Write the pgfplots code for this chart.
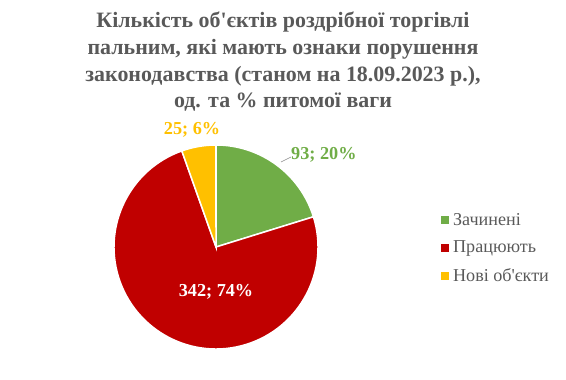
\documentclass[border=0pt]{standalone}
\usepackage{fontspec}
\setmainfont{Liberation Serif}[Ligatures=TeXOff]
\usepackage{pgfplots}
\usepackage{pgfplotstable}
\pgfplotsset{compat=1.18}
\definecolor{cgreen}{HTML}{70AD47}
\definecolor{cred}{HTML}{C00000}
\definecolor{cyellow}{HTML}{FFC000}
\definecolor{cgray}{HTML}{595959}
\pgfplotstableread{
value
93
342
25
}\piedata
\begin{document}
\begin{tikzpicture}
\pgfplotstablegetelem{0}{value}\of\piedata \let\va\pgfplotsretval
\pgfplotstablegetelem{1}{value}\of\piedata \let\vb\pgfplotsretval
\pgfplotstablegetelem{2}{value}\of\piedata \let\vc\pgfplotsretval
\pgfmathsetmacro{\tot}{\va+\vb+\vc}
\pgfmathsetmacro{\aA}{90}
\pgfmathsetmacro{\aB}{90-360*(\va/\tot)}
\pgfmathsetmacro{\aC}{\aB-360*(\vb/\tot)}
\pgfmathsetmacro{\aD}{\aC-360*(\vc/\tot)}
\begin{axis}[width=566bp, height=380bp, scale only axis,
  xmin=0, xmax=566, ymin=0, ymax=380, hide axis, clip=false,
  legend style={draw=none, fill=none, at={(441/566,132/380)}, anchor=west,
    font=\fontsize{18.2}{21}\selectfont, text=cgray, row sep=11bp,
    inner sep=0pt, nodes={inner sep=1.5bp},
    /tikz/every odd column/.append style={column sep=3bp}},
  legend cell align=left]
\path (axis cs:0,0) rectangle (axis cs:566,380);
\addlegendimage{legend image code/.code={\fill[cgreen] (0bp,-3.5bp) rectangle (7bp,3.5bp);}}
\addlegendentry{Зачинені}
\addlegendimage{legend image code/.code={\fill[cred] (0bp,-3.5bp) rectangle (7bp,3.5bp);}}
\addlegendentry{Працюють}
\addlegendimage{legend image code/.code={\fill[cyellow] (0bp,-3.5bp) rectangle (7bp,3.5bp);}}
\addlegendentry{Нові об'єкти}
\filldraw[cgreen, draw=white, line width=1.5bp] (axis cs:216,133) -- +(\aA:102bp) arc[start angle=\aA, end angle=\aB, radius=102bp] -- cycle;
\filldraw[cred, draw=white, line width=1.5bp] (axis cs:216,133) -- +(\aB:102bp) arc[start angle=\aB, end angle=\aC, radius=102bp] -- cycle;
\filldraw[cyellow, draw=white, line width=1.5bp] (axis cs:216,133) -- +(\aC:102bp) arc[start angle=\aC, end angle=\aD, radius=102bp] -- cycle;
\draw[cgray!70, line width=0.6bp] (axis cs:281,218) -- (axis cs:291,223);
\node[text=cgreen, font=\fontsize{18.3}{20}\selectfont\bfseries, anchor=west, inner sep=0pt] at (axis cs:291,225) {93; 20\%};
\node[text=cyellow, font=\fontsize{18.3}{20}\selectfont\bfseries, inner sep=0pt] at (axis cs:192,250) {25; 6\%};
\node[text=white, font=\fontsize{18.3}{20}\selectfont\bfseries, inner sep=0pt] at (axis cs:216,88) {342; 74\%};
\node[text=cgray, font=\fontsize{22}{26.8}\selectfont\bfseries, align=center, inner sep=0pt, anchor=north] at (axis cs:283,368)
{Кількість об'єктів роздрібної торгівлі\\пальним, які мають ознаки порушення\\законодавства (станом на 18.09.2023 р.),\\од. та \% питомої ваги};
\end{axis}
\end{tikzpicture}
\end{document}
